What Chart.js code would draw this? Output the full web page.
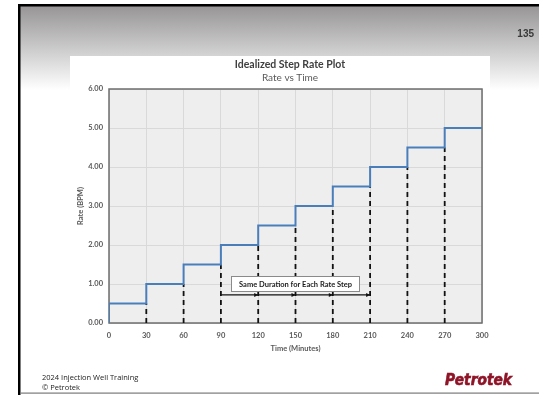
<!DOCTYPE html>
<html>
<head>
<meta charset="utf-8">
<script src="https://cdn.jsdelivr.net/npm/chart.js@4"></script>
<style>
  html, body { margin: 0; padding: 0; background: #ffffff; overflow: hidden; }
  #wrap { width: 539px; height: 395px; overflow: hidden; }
  canvas { display: block; }
</style>
</head>
<body>
<div id="wrap"><canvas id="c" width="539" height="395"></canvas></div>
<script>
// Step rate test: injection rate held constant for equal time steps
const stepTimes = [0, 30, 60, 90, 120, 150, 180, 210, 240, 270, 300];
const stepRates = [0.50, 1.00, 1.50, 2.00, 2.50, 3.00, 3.50, 4.00, 4.50, 5.00, 5.00];
const durationMarks = [90, 120, 150, 180, 210];
const durationRate = 0.72;
const durationLabel = 'Same Duration for Each Rate Step';
const durationLabelAt = { x: 150, y: 1.0 };
const chartTitle = 'Idealized Step Rate Plot';
const chartSubtitle = 'Rate vs Time';
const xTitle = 'Time (Minutes)';
const yTitle = 'Rate (BPM)';

const FONT = 'Lato, "Open Sans", sans-serif';

// Rate line: starts at zero, each level holds until the next step time
const rateSeries = [{ x: stepTimes[0], y: 0 }].concat(
  stepTimes.map((t, i) => ({ x: t, y: stepRates[i] }))
);

// Dashed markers from the axis up to the level held before each step
const markerSets = [];
for (let i = 1; i < stepTimes.length - 1; i++) {
  markerSets.push({
    data: [{ x: stepTimes[i], y: 0 }, { x: stepTimes[i], y: stepRates[i - 1] }],
    borderColor: '#111111',
    borderWidth: 1.8,
    borderDash: [5, 4],
    pointRadius: 0,
    order: 2
  });
}

const slidePlugin = {
  id: 'slide',
  beforeDraw(chart) {
    const ctx = chart.ctx;
    const a = chart.chartArea;
    ctx.save();
    ctx.fillStyle = '#ffffff';
    ctx.fillRect(0, 0, 539, 395);
    // header gradient
    const g = ctx.createLinearGradient(0, 6, 0, 90);
    g.addColorStop(0, '#979595');
    g.addColorStop(1, '#ffffff');
    ctx.fillStyle = g;
    ctx.fillRect(20, 6, 519, 84);
    // slide frame
    ctx.fillStyle = '#000000';
    ctx.fillRect(18, 4, 521, 2.5);
    ctx.fillRect(18, 4, 2.5, 391);
    ctx.fillStyle = '#7a7a7a';
    ctx.fillRect(20, 392.5, 519, 1.2);
    // chart panel
    ctx.fillStyle = '#ffffff';
    ctx.fillRect(70, 56, 420, 300);
    // plot background
    ctx.fillStyle = '#eeeeee';
    ctx.fillRect(a.left, a.top, a.right - a.left, a.bottom - a.top);
    // titles
    ctx.textAlign = 'center';
    ctx.textBaseline = 'middle';
    ctx.fillStyle = '#404040';
    ctx.font = 'bold 10.5px ' + FONT;
    ctx.fillText(chartTitle, 290, 65);
    ctx.fillStyle = '#595959';
    ctx.font = '10px ' + FONT;
    ctx.fillText(chartSubtitle, 290, 77.5);
    // axis titles
    ctx.font = 'bold 7.5px ' + FONT;
    ctx.fillText(xTitle, (a.left + a.right) / 2, 349);
    ctx.save();
    ctx.translate(81, (a.top + a.bottom) / 2);
    ctx.rotate(-Math.PI / 2);
    ctx.fillText(yTitle, 0, 0);
    ctx.restore();
    // page number
    ctx.textAlign = 'right';
    ctx.fillStyle = '#3a3a3a';
    ctx.font = 'bold 10px "Liberation Sans", Arial, sans-serif';
    ctx.fillText('135', 534, 34);
    // footer
    ctx.textAlign = 'left';
    ctx.fillStyle = '#222222';
    ctx.font = '7.5px "Open Sans", sans-serif';
    ctx.fillText('2024 Injection Well Training', 42, 378);
    ctx.fillText('\u00A9 Petrotek', 42, 388);
    // logo
    ctx.fillStyle = '#8e1528';
    ctx.font = 'italic bold 15px "Liberation Sans Narrow", "DejaVu Sans", sans-serif';
    const w = ctx.measureText('Petrotek').width;
    ctx.save();
    ctx.translate(445, 381);
    ctx.scale(67 / w, 1);
    ctx.fillText('Petrotek', 0, 0);
    ctx.lineWidth = 0.6;
    ctx.strokeStyle = '#8e1528';
    ctx.strokeText('Petrotek', 0, 0);
    ctx.restore();
    ctx.restore();
  },
  beforeDatasetsDraw(chart) {
    const ctx = chart.ctx;
    const a = chart.chartArea;
    ctx.save();
    ctx.strokeStyle = '#6e6e6e';
    ctx.lineWidth = 1.5;
    ctx.strokeRect(a.left, a.top, a.right - a.left, a.bottom - a.top);
    ctx.restore();
  },
  afterDatasetsDraw(chart) {
    const ctx = chart.ctx;
    const xs = chart.scales.x, ys = chart.scales.y;
    ctx.save();
    // duration arrows between consecutive step times
    const yy = ys.getPixelForValue(durationRate);
    ctx.strokeStyle = '#111111';
    ctx.fillStyle = '#111111';
    ctx.lineWidth = 1.2;
    ctx.beginPath();
    ctx.moveTo(xs.getPixelForValue(durationMarks[0]), yy);
    ctx.lineTo(xs.getPixelForValue(durationMarks[durationMarks.length - 1]), yy);
    ctx.stroke();
    for (let i = 1; i < durationMarks.length; i++) {
      const px = xs.getPixelForValue(durationMarks[i]);
      ctx.beginPath();
      ctx.moveTo(px, yy);
      ctx.lineTo(px - 4, yy - 2);
      ctx.lineTo(px - 4, yy + 2);
      ctx.closePath();
      ctx.fill();
    }
    // label box
    const lx = xs.getPixelForValue(durationLabelAt.x);
    const ly = ys.getPixelForValue(durationLabelAt.y);
    ctx.font = 'bold 7.5px ' + FONT;
    const bw = 129, bh = 16;
    ctx.fillStyle = '#ffffff';
    ctx.fillRect(lx - bw / 2, ly - bh / 2, bw, bh);
    ctx.strokeStyle = '#8a8a8a';
    ctx.lineWidth = 1;
    ctx.strokeRect(lx - bw / 2 + 0.5, ly - bh / 2 + 0.5, bw - 1, bh - 1);
    ctx.fillStyle = '#1a1a1a';
    ctx.textAlign = 'center';
    ctx.textBaseline = 'middle';
    ctx.fillText(durationLabel, lx, ly + 0.5);
    ctx.restore();
  }
};

new Chart(document.getElementById('c'), {
  type: 'line',
  data: {
    datasets: [
      {
        data: rateSeries,
        stepped: 'before',
        borderColor: '#4a7ebb',
        borderWidth: 2,
        pointRadius: 0,
        order: 1
      },
      ...markerSets
    ]
  },
  options: {
    responsive: false,
    devicePixelRatio: 1,
    animation: false,
    events: [],
    layout: { padding: { left: 0, top: 89, right: 57, bottom: 42 } },
    plugins: { legend: { display: false }, tooltip: { enabled: false } },
    scales: {
      x: {
        type: 'linear',
        min: 0, max: 300,
        afterFit(s) { s.height = 30; },
        border: { display: false },
        grid: { color: '#d9d9d9', lineWidth: 1, drawTicks: false },
        ticks: {
          stepSize: 30,
          padding: 8,
          color: '#595959',
          font: { family: FONT, size: 7.5, weight: 'bold' }
        }
      },
      y: {
        type: 'linear',
        min: 0, max: 6,
        afterFit(s) { s.width = 109; },
        border: { display: false },
        grid: { color: '#d9d9d9', lineWidth: 1, drawTicks: false },
        ticks: {
          stepSize: 1,
          padding: 6,
          color: '#595959',
          font: { family: FONT, size: 7.5, weight: 'bold' },
          callback: v => v.toFixed(2)
        }
      }
    }
  },
  plugins: [slidePlugin]
});
</script>
</body>
</html>
